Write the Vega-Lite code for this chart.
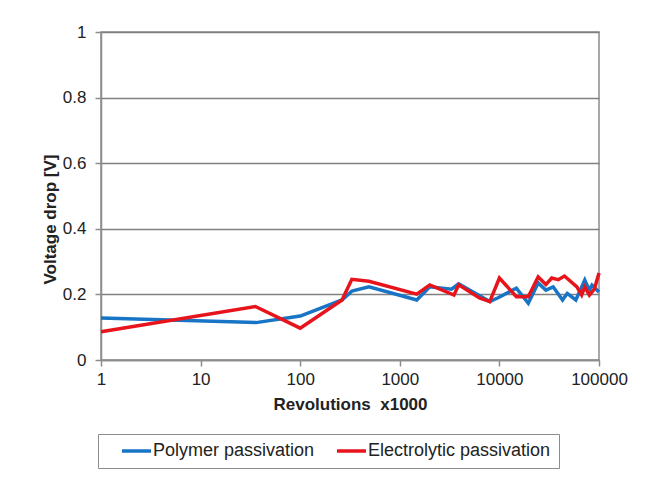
{
  "$schema": "https://vega.github.io/schema/vega-lite/v6.json",
  "autosize": "none",
  "width": 498,
  "height": 328,
  "padding": {"left": 101, "top": 32, "right": 54, "bottom": 120},
  "background": "white",
  "config": {
    "font": "Liberation Sans",
    "view": {"stroke": "#8c8c8c", "strokeWidth": 1.5},
    "axis": {"labelFont": "Liberation Sans", "titleFont": "Liberation Sans", "labelColor": "#222", "titleColor": "#222"}
  },
  "data": {
    "values": [
      {"rev": 1, "v": 0.128, "series": "Polymer passivation"},
      {"rev": 36, "v": 0.114, "series": "Polymer passivation"},
      {"rev": 100, "v": 0.134, "series": "Polymer passivation"},
      {"rev": 263, "v": 0.183, "series": "Polymer passivation"},
      {"rev": 330, "v": 0.21, "series": "Polymer passivation"},
      {"rev": 490, "v": 0.223, "series": "Polymer passivation"},
      {"rev": 1480, "v": 0.183, "series": "Polymer passivation"},
      {"rev": 2000, "v": 0.223, "series": "Polymer passivation"},
      {"rev": 3300, "v": 0.216, "series": "Polymer passivation"},
      {"rev": 3900, "v": 0.232, "series": "Polymer passivation"},
      {"rev": 8000, "v": 0.178, "series": "Polymer passivation"},
      {"rev": 9600, "v": 0.189, "series": "Polymer passivation"},
      {"rev": 14800, "v": 0.219, "series": "Polymer passivation"},
      {"rev": 19500, "v": 0.173, "series": "Polymer passivation"},
      {"rev": 24500, "v": 0.235, "series": "Polymer passivation"},
      {"rev": 29300, "v": 0.213, "series": "Polymer passivation"},
      {"rev": 34700, "v": 0.223, "series": "Polymer passivation"},
      {"rev": 43000, "v": 0.183, "series": "Polymer passivation"},
      {"rev": 48000, "v": 0.203, "series": "Polymer passivation"},
      {"rev": 58500, "v": 0.183, "series": "Polymer passivation"},
      {"rev": 72000, "v": 0.244, "series": "Polymer passivation"},
      {"rev": 80000, "v": 0.213, "series": "Polymer passivation"},
      {"rev": 85000, "v": 0.228, "series": "Polymer passivation"},
      {"rev": 100000, "v": 0.207, "series": "Polymer passivation"},
      {"rev": 1, "v": 0.086, "series": "Electrolytic passivation"},
      {"rev": 35.5, "v": 0.163, "series": "Electrolytic passivation"},
      {"rev": 100, "v": 0.097, "series": "Electrolytic passivation"},
      {"rev": 263, "v": 0.183, "series": "Electrolytic passivation"},
      {"rev": 330, "v": 0.246, "series": "Electrolytic passivation"},
      {"rev": 490, "v": 0.24, "series": "Electrolytic passivation"},
      {"rev": 1480, "v": 0.201, "series": "Electrolytic passivation"},
      {"rev": 2000, "v": 0.229, "series": "Electrolytic passivation"},
      {"rev": 3500, "v": 0.198, "series": "Electrolytic passivation"},
      {"rev": 3900, "v": 0.229, "series": "Electrolytic passivation"},
      {"rev": 6300, "v": 0.189, "series": "Electrolytic passivation"},
      {"rev": 8000, "v": 0.178, "series": "Electrolytic passivation"},
      {"rev": 10000, "v": 0.25, "series": "Electrolytic passivation"},
      {"rev": 14800, "v": 0.193, "series": "Electrolytic passivation"},
      {"rev": 19500, "v": 0.193, "series": "Electrolytic passivation"},
      {"rev": 24500, "v": 0.253, "series": "Electrolytic passivation"},
      {"rev": 29300, "v": 0.23, "series": "Electrolytic passivation"},
      {"rev": 33500, "v": 0.25, "series": "Electrolytic passivation"},
      {"rev": 39000, "v": 0.245, "series": "Electrolytic passivation"},
      {"rev": 45000, "v": 0.256, "series": "Electrolytic passivation"},
      {"rev": 60000, "v": 0.223, "series": "Electrolytic passivation"},
      {"rev": 67000, "v": 0.198, "series": "Electrolytic passivation"},
      {"rev": 72000, "v": 0.223, "series": "Electrolytic passivation"},
      {"rev": 80000, "v": 0.198, "series": "Electrolytic passivation"},
      {"rev": 90000, "v": 0.217, "series": "Electrolytic passivation"},
      {"rev": 100000, "v": 0.265, "series": "Electrolytic passivation"}
    ]
  },
  "mark": {"type": "line", "strokeWidth": 3.5, "strokeJoin": "miter", "clip": false},
  "encoding": {
    "x": {
      "field": "rev", "type": "quantitative",
      "scale": {"type": "log", "domain": [1, 100000], "nice": false},
      "axis": {
        "title": "Revolutions \u00a0x1000",
        "values": [1, 10, 100, 1000, 10000, 100000],
        "format": "d",
        "grid": false,
        "domainColor": "#8c8c8c", "domainWidth": 1.5,
        "tickColor": "#8c8c8c", "tickWidth": 1.5, "tickSize": 6,
        "labelFontSize": 17, "labelPadding": 5, "labelFlush": false, "labelOverlap": false,
        "titleFontSize": 17, "titleFontWeight": "bold", "titlePadding": 9
      }
    },
    "y": {
      "field": "v", "type": "quantitative",
      "scale": {"domain": [0, 1], "nice": false},
      "axis": {
        "title": "Voltage drop [V]",
        "values": [0, 0.2, 0.4, 0.6, 0.8, 1],
        "format": "~g",
        "grid": true, "gridColor": "#808080", "gridWidth": 1.5, "gridOpacity": 1,
        "domainColor": "#8c8c8c", "domainWidth": 1.5,
        "tickColor": "#8c8c8c", "tickWidth": 1.5, "tickSize": 6,
        "labelFontSize": 17, "labelPadding": 9,
        "titleFontSize": 17, "titleFontWeight": "bold",
        "titleX": -46, "titleY": 187, "titleAngle": -90, "titleBaseline": "alphabetic", "titleAlign": "center"
      }
    },
    "color": {
      "field": "series", "type": "nominal",
      "scale": {"domain": ["Polymer passivation", "Electrolytic passivation"], "range": ["#1874c4", "#e8141c"]},
      "legend": {
        "title": null,
        "orient": "none",
        "legendX": -3,
        "legendY": 402,
        "direction": "horizontal",
        "symbolType": "stroke",
        "symbolSize": 841,
        "symbolStrokeWidth": 3.5,
        "symbolOffset": 14,
        "labelOffset": 0,
        "labelFontSize": 18,
        "labelColor": "#222",
        "labelLimit": 400,
        "columnPadding": 6,
        "clipHeight": 18,
        "padding": 8,
        "strokeColor": "#8c8c8c",
        "fillColor": "white"
      }
    }
  }
}
